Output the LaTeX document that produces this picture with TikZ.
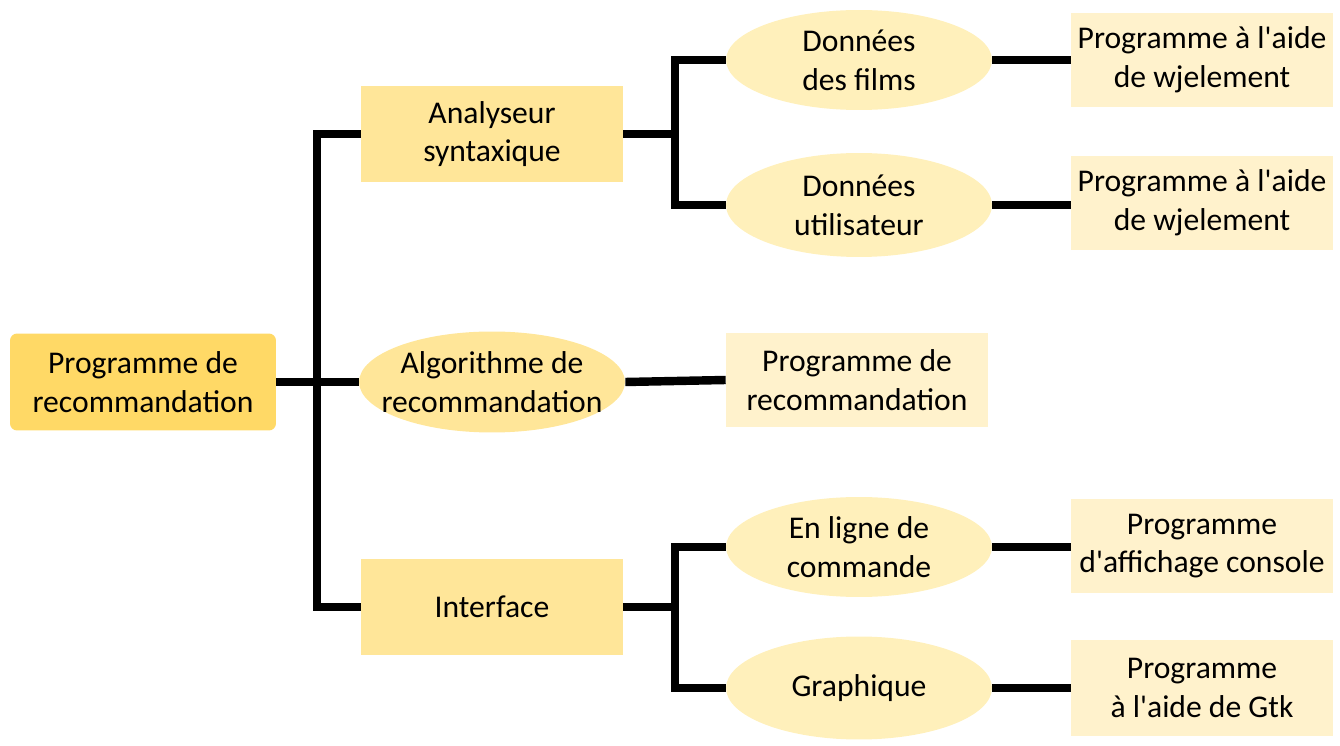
\documentclass[tikz,border=0pt]{standalone}
\usepackage{fontspec}
\setmainfont{Carlito}
\usetikzlibrary{shapes.geometric}
\definecolor{rootfill}{HTML}{FFD966}
\definecolor{midfill}{HTML}{FFE699}
\definecolor{ovalfill}{HTML}{FFF0BB}
\definecolor{leaffill}{HTML}{FFF2CC}
\tikzset{
	box/.style={rectangle, fill=midfill, minimum width=5.24cm, minimum height=1.94cm, align=center, font=\fontsize{18}{22}\selectfont},
	rootbox/.style={box, fill=rootfill, rounded corners=4pt, minimum width=5.32cm},
	oval/.style={ellipse, fill=ovalfill, minimum width=5.32cm, minimum height=2cm, inner xsep=-0.6cm, inner ysep=-0.3cm, align=center, font=\fontsize{18}{22}\selectfont},
	leaf/.style={box, fill=leaffill, minimum height=1.88cm},
	conn/.style={line width=4.8pt, black}
}
\begin{document}
\begin{tikzpicture}[x=0.02cm, y=-0.02cm]
				\useasboundingbox (0, 0) rectangle (1340, 746);
				
				% root and first level
				\node[rootbox] (root) at (143, 382) {Programme de\\recommandation};
				\node[box] (parser) at (492, 134) {Analyseur\\syntaxique};
				\node[oval, fill=midfill, minimum height=2.02cm] (algo) at (492, 382) {Algorithme de\\recommandation};
				\node[box] (iface) at (492, 607) {Interface};
				
				% second level
				\node[oval] (films) at (859, 60) {Données\\des films};
				\node[oval, minimum height=2.08cm] (users) at (859, 205) {Données\\utilisateur};
				\node[leaf] (algoprog) at (857, 380) {Programme de\\recommandation};
				\node[oval] (cli) at (859, 547) {En ligne de\\commande};
				\node[oval, minimum height=2.06cm] (gui) at (859, 688) {Graphique};
				
				% third level
				\node[leaf] (filmsprog) at (1202, 60) {Programme à l\textquotesingle aide\\de wjelement};
				\node[leaf] (usersprog) at (1202, 203) {Programme à l\textquotesingle aide\\de wjelement};
				\node[leaf] (cliprog) at (1202, 546) {Programme\\d\textquotesingle affichage console};
				\node[leaf, minimum height=1.92cm] (guiprog) at (1202, 688) {Programme\\à l\textquotesingle aide de Gtk};
				
				\coordinate (trunk) at (317, 382);
				\coordinate (forkup) at (675, 134);
				\coordinate (forkdown) at (675, 607);
				
				\draw[conn] (root.east) -- (algo.west);
				\draw[conn] (parser.west) -| (trunk) |- (iface.west);
				
				\draw[conn] (parser.east) -- (forkup);
				\draw[conn] (films.west) -| (forkup) |- (users.west);
				\draw[conn] (iface.east) -- (forkdown);
				\draw[conn] (cli.west) -| (forkdown) |- (gui.west);
				
				\draw[conn] (algo.east) -- (algoprog.west);
				\draw[conn] (films.east) -- (filmsprog.west |- films.east);
				\draw[conn] (users.east) -- (usersprog.west |- users.east);
				\draw[conn] (cli.east) -- (cliprog.west |- cli.east);
				\draw[conn] (gui.east) -- (guiprog.west |- gui.east);
			\end{tikzpicture}
\end{document}
